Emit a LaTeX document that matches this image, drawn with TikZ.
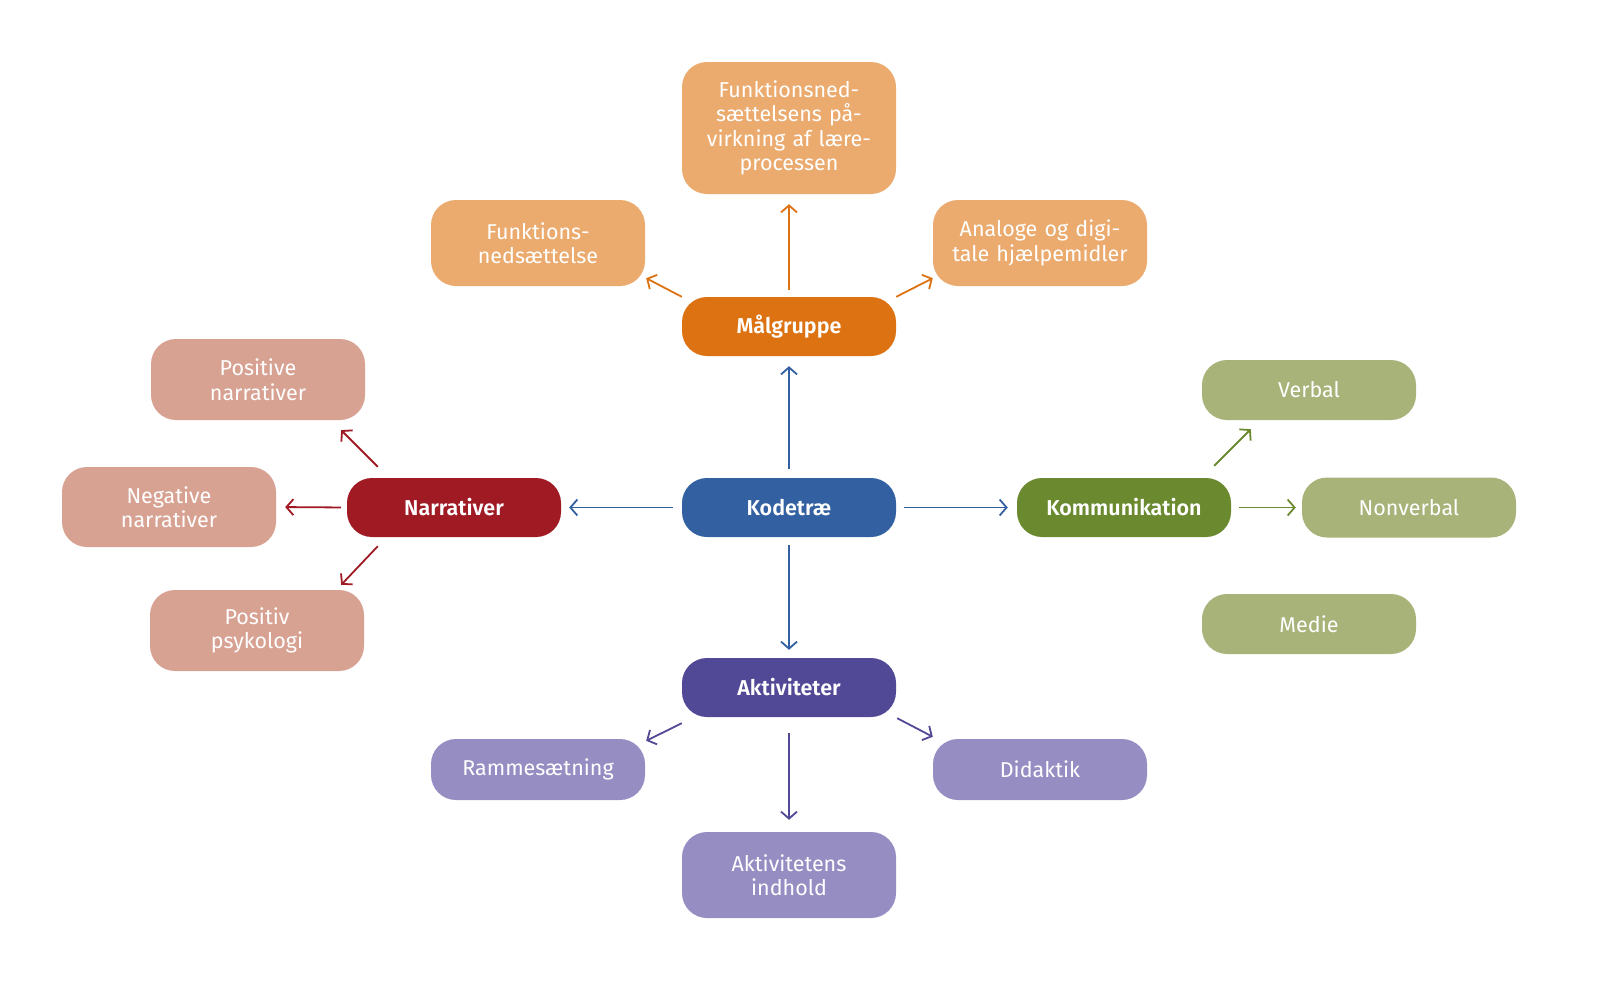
\documentclass[tikz,border=0pt]{standalone}
\usepackage{fontspec}
\setmainfont{Fira Sans}[BoldFont={Fira Sans SemiBold}]
\usetikzlibrary{arrows.meta,calc}
\definecolor{cblue}{HTML}{3260A0}
\definecolor{corange}{HTML}{DC7211}
\definecolor{lorange}{HTML}{EBAA6E}
\definecolor{cred}{HTML}{A01A24}
\definecolor{lred}{HTML}{D8A293}
\definecolor{cgreen}{HTML}{6B8A30}
\definecolor{lgreen}{HTML}{A8B37A}
\definecolor{cpurple}{HTML}{514896}
\definecolor{lpurple}{HTML}{968DC3}
\tikzset{
  box/.style={rectangle, rounded corners=25pt, minimum width=214pt, text width=212pt,
    align=center, inner sep=0pt, text=white, font=\fontsize{21.5}{24.5}\selectfont},
  mainbox/.style={box, minimum height=59pt, font=\fontsize{21.5}{24.5}\selectfont\bfseries},
  arr/.style={line width=1.8pt, -{Straight Barb[length=7pt,width=16pt,line width=1.8pt]}},
}
\begin{document}
\begin{tikzpicture}[x=1pt,y=-1pt]
\useasboundingbox (0,0) rectangle (1599,999);
% central and main nodes
\node[mainbox, fill=cblue] (K) at (789,507.5) {Kodetræ};
\node[mainbox, fill=corange] (M) at (789,326.5) {Målgruppe};
\node[mainbox, fill=cred] (N) at (454,507.5) {Narrativer};
\node[mainbox, fill=cgreen] (Ko) at (1124,507.5) {Kommunikation};
\node[mainbox, fill=cpurple] (A) at (789,687.5) {Aktiviteter};
% Målgruppe children
\node[box, fill=lorange, minimum height=132pt] (T) at (789,128) {Funktionsned-\\sættelsens på-\\virkning af lære-\\processen};
\node[box, fill=lorange, minimum height=86pt] (F) at (538,243) {Funktions-\\nedsættelse};
\node[box, fill=lorange, minimum height=86pt] (An) at (1040,243) {Analoge og digi-\\tale hjælpemidler};
% Narrativer children
\node[box, fill=lred, minimum height=81pt] (PN) at (258,379.5) {Positive\\narrativer};
\node[box, fill=lred, minimum height=80pt] (NN) at (169,507) {Negative\\narrativer};
\node[box, fill=lred, minimum height=81pt] (PP) at (257,630.5) {Positiv\\psykologi};
% Kommunikation children
\node[box, fill=lgreen, minimum height=60pt] (V) at (1309,390) {Verbal};
\node[box, fill=lgreen, minimum height=60pt] (NV) at (1409,507.5) {Nonverbal};
\node[box, fill=lgreen, minimum height=60pt] (Me) at (1309,624) {Medie};
% Aktiviteter children
\node[box, fill=lpurple, minimum height=61pt] (R) at (538,769.5) {Rammesætning};
\node[box, fill=lpurple, minimum height=61pt] (D) at (1040,769.5) {Didaktik};
\node[box, fill=lpurple, minimum height=86pt] (AI) at (789,875) {Aktivitetens\\indhold};
% connectors from Kodetræ
\draw[arr, cblue, shorten <=9pt, shorten >=10pt] (K.north) -- (M.south);
\draw[arr, cblue, shorten <=9pt, shorten >=8pt] (K.west) -- (N.east);
\draw[arr, cblue, shorten <=8pt, shorten >=9pt] (K.east) -- (Ko.west);
\draw[arr, cblue, shorten <=8pt, shorten >=8pt] (K.south) -- (A.north);
% Målgruppe
\draw[arr, corange, shorten <=7pt, shorten >=10pt] (M.north) -- (T.south);
\draw[arr, corange] (M.north west) -- ([shift={(1,-8)}]F.south east);
\draw[arr, corange] (M.north east) -- ([shift={(0,-8)}]An.south west);
% Narrativer
\draw[arr, cred] ([shift={(31,-11)}]N.north west) -- ([shift={(-24,10)}]PN.south east);
\draw[arr, cred, shorten <=6pt, shorten >=9pt] (N.west) -- (NN.east);
\draw[arr, cred] ([shift={(31,9)}]N.south west) -- ([shift={(-23,-5)}]PP.north east);
% Kommunikation
\draw[arr, cgreen] ([shift={(-17,-12)}]Ko.north east) -- ([shift={(49,9)}]V.south west);
\draw[arr, cgreen, shorten <=8pt, shorten >=6pt] (Ko.east) -- (NV.west);
% Aktiviteter
\draw[arr, cpurple] ([shift={(0,6)}]A.south west) -- ([shift={(1,2)}]R.north east);
\draw[arr, cpurple] ([shift={(1,1)}]A.south east) -- ([shift={(0,-2)}]D.north west);
\draw[arr, cpurple, shorten <=16pt, shorten >=12pt] (A.south) -- (AI.north);
\end{tikzpicture}
\end{document}
